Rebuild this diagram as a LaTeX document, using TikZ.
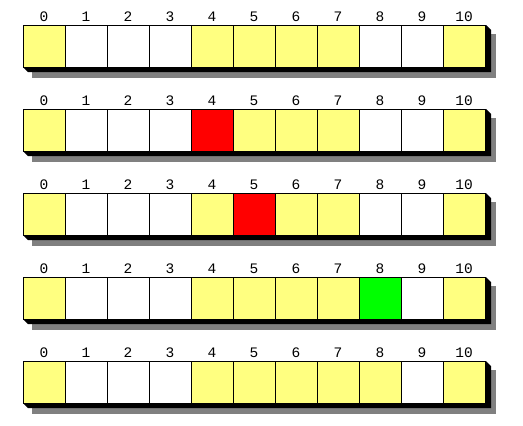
\documentclass[tikz,border=0pt]{standalone}
\usepackage{fontspec}
\setmonofont{Liberation Mono}
\definecolor{Y}{HTML}{FFFF80}
\definecolor{W}{HTML}{FFFFFF}
\definecolor{R}{HTML}{FF0000}
\definecolor{G}{HTML}{00FF00}
\definecolor{shadowgray}{HTML}{808080}
\begin{document}
\begin{tikzpicture}[x=1pt,y=-1pt,
  cell/.style={draw=black,line width=1pt,minimum width=42pt,minimum height=42pt,inner sep=0pt,outer sep=0pt,anchor=north west},
  idx/.style={font=\ttfamily\fontsize{14.5}{14.5}\selectfont,inner sep=0pt,anchor=base},
  extrude/.style={fill=black},
  dropshadow/.style={fill=shadowgray}]
\useasboundingbox (0,0) rectangle (523,426);
\foreach \r/\cols in {0/{Y,W,W,W,Y,Y,Y,Y,W,W,Y},1/{Y,W,W,W,R,Y,Y,Y,W,W,Y},2/{Y,W,W,W,Y,R,Y,Y,W,W,Y},3/{Y,W,W,W,Y,Y,Y,Y,G,W,Y},4/{Y,W,W,W,Y,Y,Y,Y,Y,W,Y}}{
  \pgfmathsetmacro\tp{25+84*\r}
  \fill[dropshadow] (32,\tp+9) rectangle (496,\tp+53);
  \fill[extrude] (486,\tp) -- (491,\tp+5) -- (491,\tp+47) -- (28,\tp+47) -- (23,\tp+42) -- cycle;
  \foreach \c [count=\i from 0] in \cols {
    \node[cell,fill=\c] (r\r c\i) at (23+42*\i,\tp) {};
    \node[idx] (l\r c\i) at (44+42*\i,\tp-4) {\i};
  }
}
\end{tikzpicture}
\end{document}
